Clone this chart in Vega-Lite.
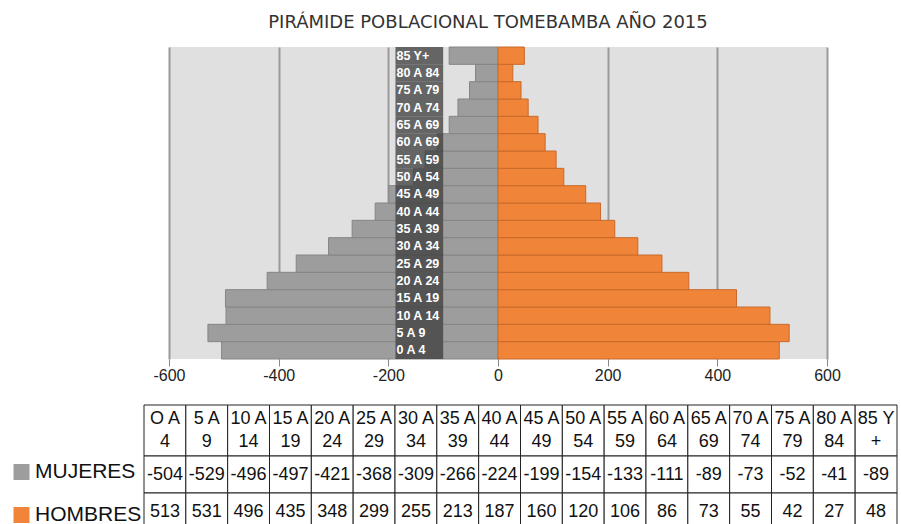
{
  "$schema": "https://vega.github.io/schema/vega-lite/v6.json",
  "padding": {"left": 11, "top": 14, "right": 0, "bottom": 0},
  "background": "white",
  "config": {"font": "Liberation Sans", "view": {"stroke": null}},
  "datasets": {
    "piramide": [
      {"grupo": "0 A 4", "encabezado": "O A\n4", "MUJERES": -504, "HOMBRES": 513},
      {"grupo": "5 A 9", "encabezado": "5 A\n9", "MUJERES": -529, "HOMBRES": 531},
      {"grupo": "10 A 14", "encabezado": "10 A\n14", "MUJERES": -496, "HOMBRES": 496},
      {"grupo": "15 A 19", "encabezado": "15 A\n19", "MUJERES": -497, "HOMBRES": 435},
      {"grupo": "20 A 24", "encabezado": "20 A\n24", "MUJERES": -421, "HOMBRES": 348},
      {"grupo": "25 A 29", "encabezado": "25 A\n29", "MUJERES": -368, "HOMBRES": 299},
      {"grupo": "30 A 34", "encabezado": "30 A\n34", "MUJERES": -309, "HOMBRES": 255},
      {"grupo": "35 A 39", "encabezado": "35 A\n39", "MUJERES": -266, "HOMBRES": 213},
      {"grupo": "40 A 44", "encabezado": "40 A\n44", "MUJERES": -224, "HOMBRES": 187},
      {"grupo": "45 A 49", "encabezado": "45 A\n49", "MUJERES": -199, "HOMBRES": 160},
      {"grupo": "50 A 54", "encabezado": "50 A\n54", "MUJERES": -154, "HOMBRES": 120},
      {"grupo": "55 A 59", "encabezado": "55 A\n59", "MUJERES": -133, "HOMBRES": 106},
      {"grupo": "60 A 69", "encabezado": "60 A\n64", "MUJERES": -111, "HOMBRES": 86},
      {"grupo": "65 A 69", "encabezado": "65 A\n69", "MUJERES": -89, "HOMBRES": 73},
      {"grupo": "70 A 74", "encabezado": "70 A\n74", "MUJERES": -73, "HOMBRES": 55},
      {"grupo": "75 A 79", "encabezado": "75 A\n79", "MUJERES": -52, "HOMBRES": 42},
      {"grupo": "80 A 84", "encabezado": "80 A\n84", "MUJERES": -41, "HOMBRES": 27},
      {"grupo": "85 Y+", "encabezado": "85 Y\n+", "MUJERES": -89, "HOMBRES": 48}
    ]
  },
  "bounds": "flush",
  "spacing": 46,
  "vconcat": [
    {
      "width": 658,
      "height": 312,
      "view": {"fill": "#e0e0e0", "stroke": null},
      "title": {"text": "PIRÁMIDE POBLACIONAL TOMEBAMBA AÑO 2015", "font": "DejaVu Sans", "fontSize": 18, "fontWeight": "normal", "color": "#333333", "offset": 14.5, "dx": -10, "anchor": "middle", "frame": "group"},
      "data": {"name": "piramide"},
      "transform": [{"fold": ["MUJERES", "HOMBRES"], "as": ["sexo", "valor"]}],
      "encoding": {
        "y": {
          "field": "grupo", "type": "nominal",
          "sort": ["85 Y+", "80 A 84", "75 A 79", "70 A 74", "65 A 69", "60 A 69", "55 A 59", "50 A 54", "45 A 49", "40 A 44", "35 A 39", "30 A 34", "25 A 29", "20 A 24", "15 A 19", "10 A 14", "5 A 9", "0 A 4"],
          "scale": {"paddingInner": 0, "paddingOuter": 0},
          "axis": null
        }
      },
      "layer": [
        {
          "mark": {"type": "bar", "strokeWidth": 1},
          "encoding": {
            "x": {
              "field": "valor", "type": "quantitative",
              "scale": {"domain": [-600, 600], "nice": false},
              "axis": {
                "values": [-600, -400, -200, 0, 200, 400, 600],
                "labelExpr": "'' + datum.value",
                "labelFlush": false,
                "grid": true, "gridColor": "#9a9a9a", "gridWidth": 2,
                "domain": false, "tickColor": "#888888", "tickSize": 7,
                "labelFontSize": 16, "labelColor": "#222222", "labelPadding": 1,
                "title": null
              }
            },
            "color": {
              "field": "sexo", "type": "nominal",
              "scale": {"domain": ["MUJERES", "HOMBRES"], "range": ["#9d9d9d", "#f08439"]},
              "legend": {
                "orient": "none", "legendX": -158, "legendY": 414.5, "title": null,
                "symbolType": "square", "symbolSize": 256, "symbolStrokeWidth": 0,
                "labelFontSize": 21, "labelColor": "#111111", "labelOffset": 3,
                "rowPadding": 21, "padding": 0
              }
            },
            "stroke": {
              "field": "sexo", "type": "nominal",
              "scale": {"domain": ["MUJERES", "HOMBRES"], "range": ["#858585", "#c86a2c"]},
              "legend": null
            }
          }
        },
        {
          "transform": [{"filter": "datum.sexo == 'MUJERES'"}],
          "mark": {"type": "rect", "fill": "#3c3c3c", "opacity": 0.75},
          "encoding": {"x": {"datum": -187}, "x2": {"datum": -100}}
        },
        {
          "transform": [{"filter": "datum.sexo == 'MUJERES'"}],
          "mark": {"type": "text", "align": "left", "baseline": "middle", "color": "white", "fontWeight": "bold", "fontSize": 12.5, "dx": 1},
          "encoding": {"x": {"datum": -187}, "text": {"field": "grupo", "type": "nominal"}}
        }
      ]
    },
    {
      "bounds": "flush",
      "spacing": 0,
      "vconcat": [
        {
          "width": 728,
          "height": 51,
          "data": {"name": "piramide"},
          "encoding": {
            "x": {
              "field": "grupo", "type": "nominal",
              "sort": ["0 A 4", "5 A 9", "10 A 14", "15 A 19", "20 A 24", "25 A 29", "30 A 34", "35 A 39", "40 A 44", "45 A 49", "50 A 54", "55 A 59", "60 A 69", "65 A 69", "70 A 74", "75 A 79", "80 A 84", "85 Y+"],
              "scale": {"range": [-25, 728], "paddingInner": 0, "paddingOuter": 0},
              "axis": null
            }
          },
          "layer": [
            {"mark": {"type": "rect", "fill": "white", "stroke": "#222222", "strokeWidth": 1}},
            {
              "mark": {"type": "text", "fontSize": 18, "lineBreak": "\n", "lineHeight": 23, "baseline": "middle", "dy": -12, "color": "#111111"},
              "encoding": {"text": {"field": "encabezado", "type": "nominal"}}
            }
          ]
        },
        {
          "width": 728,
          "height": 74,
          "data": {"name": "piramide"},
          "transform": [{"fold": ["MUJERES", "HOMBRES"], "as": ["sexo", "valor"]}],
          "encoding": {
            "x": {
              "field": "grupo", "type": "nominal",
              "sort": ["0 A 4", "5 A 9", "10 A 14", "15 A 19", "20 A 24", "25 A 29", "30 A 34", "35 A 39", "40 A 44", "45 A 49", "50 A 54", "55 A 59", "60 A 69", "65 A 69", "70 A 74", "75 A 79", "80 A 84", "85 Y+"],
              "scale": {"range": [-25, 728], "paddingInner": 0, "paddingOuter": 0},
              "axis": null
            },
            "y": {
              "field": "sexo", "type": "nominal",
              "sort": ["MUJERES", "HOMBRES"],
              "scale": {"paddingInner": 0, "paddingOuter": 0},
              "axis": null
            }
          },
          "layer": [
            {"mark": {"type": "rect", "fill": "white", "stroke": "#222222", "strokeWidth": 1}},
            {
              "mark": {"type": "text", "fontSize": 18, "baseline": "middle", "color": "#111111"},
              "encoding": {"text": {"field": "valor", "type": "nominal"}}
            }
          ]
        }
      ]
    }
  ]
}
